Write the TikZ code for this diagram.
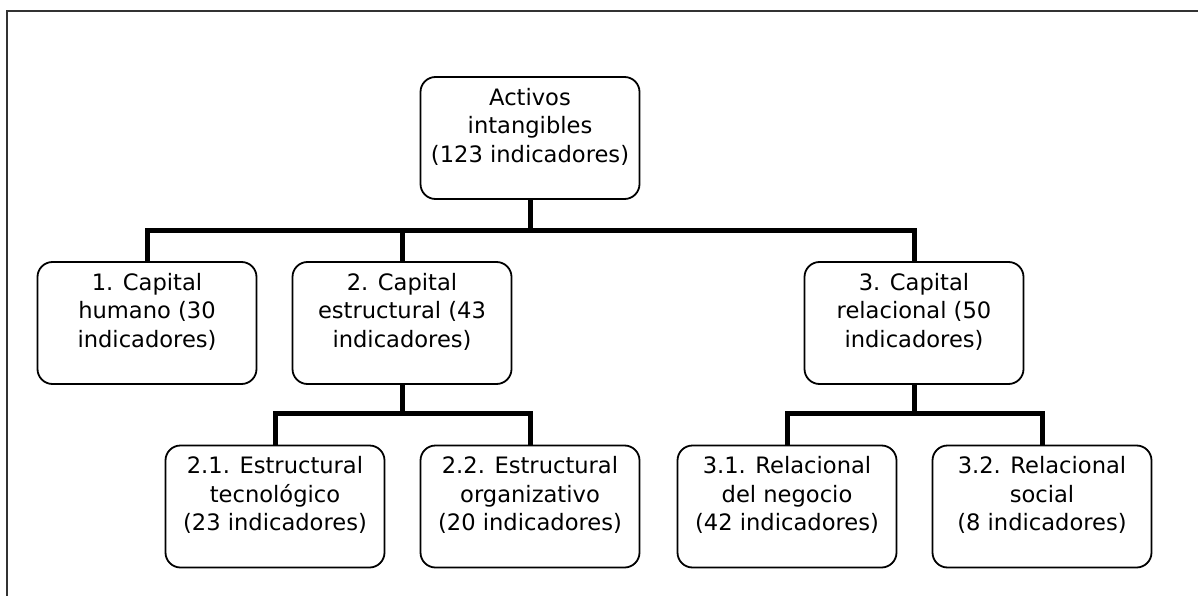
\documentclass[tikz,border=0pt]{standalone}
\usepackage{fontspec}
\setmainfont{DejaVu Sans}
% struts that put the three text lines in the upper part of each box
\newcommand\boxtopstrut{\rule{0pt}{20pt}}
\newcommand\boxbotstrut{\rule[-26pt]{0pt}{26pt}}
\begin{document}
\begin{tikzpicture}[x=1pt,y=-1pt,
  box/.style={draw=black, line width=1.8pt, rounded corners=15pt,
    minimum width=219pt, minimum height=122pt, align=center, inner sep=0pt,
    font=\fontsize{22.6}{28.5}\selectfont,
    execute at begin node=\boxtopstrut, execute at end node=\boxbotstrut},
  link/.style={line width=5pt, line join=miter},
  frame/.style={draw=black!80, line width=2pt}]
\useasboundingbox (0,0) rectangle (1198,596);

% outer frame (left and top edges)
\coordinate (fb) at (6.7,600);
\coordinate (fc) at (6.7,11.5);
\coordinate (fr) at (1202,11.5);
\draw[frame] (fb) -- (fc) -- (fr);

% root
\node[box] (root) at (530,138) {Activos\\intangibles\\(123 indicadores)};

% first level
\node[box] (hum) at (147,323) {1. Capital\\humano (30\\indicadores)};
\node[box] (est) at (402,323) {2. Capital\\estructural (43\\indicadores)};
\node[box] (rel) at (914,323) {3. Capital\\relacional (50\\indicadores)};

% second level
\node[box] (tec) at (275,506.5) {2.1. Estructural\\tecnológico\\(23 indicadores)};
\node[box] (org) at (530,506.5) {2.2. Estructural\\organizativo\\(20 indicadores)};
\node[box] (neg) at (787,506.5) {3.1. Relacional\\del negocio\\(42 indicadores)};
\node[box] (soc) at (1042,506.5) {3.2. Relacional\\social\\(8 indicadores)};

% connectors
\foreach \c in {hum,est,rel}
  \draw[link] (root.south) |- ([yshift=31pt]\c.north) -- (\c.north);
\foreach \c in {tec,org}
  \draw[link] (est.south) |- ([yshift=31pt]\c.north) -- (\c.north);
\foreach \c in {neg,soc}
  \draw[link] (rel.south) |- ([yshift=31pt]\c.north) -- (\c.north);
\end{tikzpicture}
\end{document}
